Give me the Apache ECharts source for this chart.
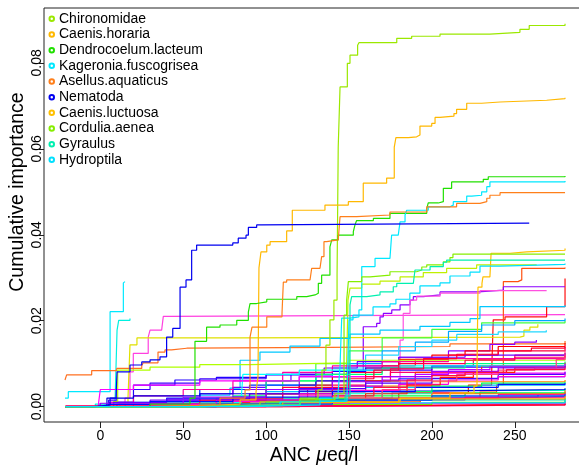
<!DOCTYPE html>
<html><head><meta charset="utf-8">
<script src="https://cdn.jsdelivr.net/npm/echarts@6/dist/echarts.min.js"></script>
<style>html,body{margin:0;padding:0;background:#fff}#chart{width:579px;height:468px}</style>
</head><body><div id="chart"></div>
<script>
// Axis ticks
const ancTicks = [0, 50, 100, 150, 200, 250];
const importanceTicks = [0, 0.02, 0.04, 0.06, 0.08];

// Taxa shown in the legend
const legendTaxa = ['Chironomidae', 'Caenis.horaria', 'Dendrocoelum.lacteum', 'Kageronia.fuscogrisea',
  'Asellus.aquaticus', 'Nematoda', 'Caenis.luctuosa', 'Cordulia.aenea', 'Gyraulus', 'Hydroptila'];

// Cumulative importance curves: [ANC, cumulative importance]
const chironomidae = [[-21,0],[60.1,0.0004],[96.3,0.0011],[120.4,0.0020],[131.3,0.0039],[133.7,0.0085],[136.1,0.0143],[138.5,0.0202],[140.9,0.0248],[142.8,0.0306],[143.5,0.0604],[144.6,0.0744],[149.0,0.0799],[150.6,0.0818],[155.2,0.0841],[156.0,0.0847],[178.8,0.0857],[187.8,0.0862],[204.9,0.0867],[235.0,0.0871],[253.1,0.0878],[258.7,0.0887],[280.3,0.0891]];
const caenisHoraria = [[-21,0],[30.0,0.0002],[60.1,0.0006],[84.3,0.0016],[93.9,0.0034],[95.1,0.0069],[95.7,0.0323],[96.9,0.0360],[100.4,0.0376],[102.4,0.0384],[112.4,0.0409],[115.8,0.0457],[135.5,0.0469],[149.6,0.0477],[158.6,0.0520],[172.7,0.0532],[177.3,0.0604],[178.3,0.0626],[185.8,0.0628],[190.8,0.0632],[192.8,0.0653],[199.9,0.0659],[201.9,0.0673],[204.9,0.0676],[213.3,0.0682],[214.9,0.0692],[221.0,0.0706],[230.0,0.0709],[241.1,0.0713],[269.2,0.0717],[280.3,0.0719]];
const dendrocoelumLacteum = [[-21,0],[30.0,0.0006],[54.1,0.0020],[57.1,0.0152],[64.1,0.0185],[72.2,0.0190],[82.3,0.0201],[89.3,0.0220],[90.3,0.0240],[94.3,0.0244],[100.4,0.0250],[118.5,0.0256],[124.5,0.0260],[129.5,0.0264],[131.5,0.0287],[133.5,0.0306],[138.5,0.0372],[139.6,0.0388],[143.5,0.0399],[152.6,0.0407],[153.6,0.0423],[154.6,0.0433],[164.7,0.0438],[174.7,0.0450],[196.9,0.0461],[197.8,0.0474],[203.9,0.0477],[206.9,0.0508],[211.9,0.0523],[231.0,0.0529],[234.0,0.0535],[280.3,0.0537]];
const kageroniaFuscogrisea = [[-21,0],[60.1,0.0004],[108.4,0.0011],[132.5,0.0020],[143.4,0.0030],[144.6,0.0095],[145.6,0.0206],[150.6,0.0209],[156.0,0.0225],[157.7,0.0326],[165.7,0.0345],[174.7,0.0349],[175.7,0.0399],[179.7,0.0403],[180.8,0.0430],[183.8,0.0446],[184.8,0.0457],[197.8,0.0465],[210.9,0.0469],[212.9,0.0477],[221.0,0.0490],[224.0,0.0492],[230.0,0.0500],[233.1,0.0512],[235.0,0.0523],[280.3,0.0525]];
const asellusAquaticus = [[-21,0],[30.0,0.0004],[72.2,0.0020],[87.3,0.0039],[90.3,0.0162],[91.5,0.0185],[100.4,0.0209],[109.6,0.0218],[110.4,0.0290],[112.4,0.0295],[126.5,0.0299],[127.5,0.0322],[132.5,0.0325],[133.5,0.0349],[134.9,0.0384],[136.5,0.0388],[143.5,0.0392],[144.6,0.0442],[154.6,0.0446],[174.7,0.0453],[196.9,0.0465],[214.9,0.0473],[229.0,0.0477],[233.1,0.0485],[235.0,0.0492],[241.1,0.0498],[280.3,0.0499]];
const nematoda = [[-21,0],[-3.2,0.0004],[5.9,0.0020],[9.5,0.0025],[10.1,0.0081],[17.9,0.0097],[25.0,0.0104],[30.0,0.0109],[36.0,0.0116],[40.0,0.0162],[43.7,0.0182],[48.1,0.0278],[51.7,0.0295],[55.1,0.0364],[58.1,0.0376],[79.9,0.0381],[83.2,0.0392],[87.9,0.0399],[89.3,0.0417],[94.3,0.0423],[97.3,0.0427],[258.7,0.0428]];
const caenisLuctuosa = [[-21,0],[60.1,0.0004],[120.4,0.0011],[180.8,0.0020],[210.9,0.0032],[225.4,0.0048],[227.2,0.0085],[227.8,0.0278],[230.2,0.0287],[230.8,0.0302],[235.0,0.0302],[235.7,0.0357],[247.1,0.0360],[257.2,0.0364],[280.3,0.0368]];
const corduliaAenea = [[-21,0],[60.1,0.0004],[120.4,0.0016],[141.5,0.0030],[147.0,0.0213],[148.6,0.0248],[149.6,0.0291],[157.7,0.0302],[162.7,0.0306],[174.7,0.0314],[190.8,0.0318],[193.9,0.0325],[196.9,0.0330],[206.9,0.0337],[210.9,0.0347],[212.7,0.0355],[280.3,0.0355]];
const gyraulus = [[-21,0],[60.1,0.0004],[120.4,0.0013],[147.6,0.0025],[150.6,0.0237],[151.6,0.0256],[160.7,0.0260],[168.7,0.0267],[176.7,0.0279],[178.8,0.0287],[188.8,0.0291],[189.8,0.0318],[198.9,0.0326],[206.9,0.0336],[208.9,0.0341],[280.3,0.0342]];
const hydroptila = [[-21,0],[90.3,0.0004],[132.5,0.0013],[148.8,0.0025],[150.0,0.0202],[152.4,0.0213],[164.5,0.0232],[174.7,0.0239],[178.3,0.0250],[186.7,0.0264],[192.8,0.0281],[204.9,0.0288],[210.9,0.0304],[223.0,0.0313],[229.0,0.0327],[241.1,0.0331],[280.3,0.0333]];

// Remaining taxa
const taxon01 = [[-21,0],[-0.2,0.0006],[14.9,0.0020],[17.9,0.0081],[19.9,0.0124],[28.9,0.0162],[30.0,0.0178],[37.0,0.0182],[38.0,0.0210],[42.0,0.0214],[280.3,0.0215]];
const taxon02 = [[-21.3,0.0020],[-19.3,0.0035],[5.9,0.0221],[13.9,0.0288],[14.9,0.0291]];
const taxon03 = [[-21,0],[-3,0.0006],[8.9,0.0015],[10.1,0.0178],[11.1,0.0201],[17.9,0.0205]];
const taxon04 = [[-21,0],[60,0.0004],[120,0.0016],[180,0.0032],[222,0.0050],[236,0.0074],[237.0,0.0202],[244.1,0.0209],[269.2,0.0233],[280.3,0.0298]];
const taxon05 = [[-21,0],[120.4,0.0011],[193,0.0020],[229,0.0034],[239,0.0051],[243.1,0.0291],[251.9,0.0295],[254.2,0.0322],[280.3,0.0324]];
const taxon06 = [[-21,0],[60,0.0008],[110,0.0030],[140,0.0060],[150,0.0080],[158.6,0.0186],[166.7,0.0194],[168.7,0.0209],[170.7,0.0217],[175.8,0.0225],[180.8,0.0237],[186.8,0.0248],[188.8,0.0256],[194.8,0.0260],[204.9,0.0267],[227.8,0.0271],[243.1,0.0279],[280.3,0.0279]];
const taxon07 = [[-21,0],[90,0.0006],[150,0.0020],[176,0.0034],[180.8,0.0155],[182.7,0.0217],[186.8,0.0248],[190.8,0.0257],[204.9,0.0264],[229.0,0.0270],[269.2,0.0271]];
const taxon08 = [[-21,0],[90.3,0.0006],[138.5,0.0020],[148.2,0.0034],[149.4,0.0248],[150.6,0.0276],[157.7,0.0285],[168.7,0.0292],[180.8,0.0302],[194.8,0.0312],[208.9,0.0322],[227.0,0.0330],[263.2,0.0330]];
const taxon09 = [[-21,0],[11.9,0.0006],[16.7,0.0020],[17.9,0.0144],[22.1,0.0160],[84.3,0.0162],[253.1,0.0164],[255.5,0.0178],[259.1,0.0185],[263.9,0.0192]];
const taxon10 = [[-21.3,0.0062],[-20.3,0.0074],[-5.2,0.0084],[9.9,0.0089],[25.0,0.0095],[25.9,0.0102],[34.8,0.0127],[39.0,0.0132],[43.0,0.0136],[52.1,0.0138],[138.5,0.0140],[210.9,0.0146],[280.3,0.0153]];
const taxon11 = [[-21,0],[30.0,0.0011],[60.1,0.0027],[78.2,0.0043],[84.3,0.0108],[96.3,0.0127],[114.4,0.0141],[132.5,0.0159],[150.6,0.0169],[168.7,0.0178],[192.8,0.0187],[210.9,0.0196],[223.0,0.0205],[229.0,0.0233],[280.3,0.0236]];
const taxon12 = [[-21,0],[40,0.001],[90,0.003],[110,0.006],[130,0.010],[150,0.013],[170,0.016],[200,0.018],[230,0.0195],[280.3,0.0200]];
const taxon13 = [[-21,0],[60,0.002],[100,0.004],[130,0.007],[150,0.010],[170,0.013],[190,0.015],[210,0.0175],[230,0.019],[250,0.020],[280.3,0.0205]];
const taxon14 = [[-21,0],[50,0.002],[100,0.005],[140,0.009],[160,0.012],[180,0.014],[200,0.0155],[215,0.0168],[240,0.0174],[269,0.0178]];
const taxon15 = [[-21,0],[40,0.0015],[80,0.004],[120,0.007],[150,0.0095],[180,0.0115],[210,0.013],[235,0.0145],[250,0.015],[263,0.0155]];
const taxon16 = [[-21,0],[60,0.0008],[120,0.0015],[200,0.0022],[264,0.0027]];
const taxon17 = [[-21,0],[40,0.001],[70,0.002],[100,0.004],[120,0.005],[140,0.007],[160,0.009],[180,0.011],[200,0.012],[220,0.013],[240,0.014],[280.3,0.0148]];
const taxon18 = [[-21,0],[60,0.001],[90,0.003],[110,0.0045],[130,0.006],[150,0.008],[170,0.0095],[190,0.011],[210,0.012],[240,0.013],[280.3,0.014]];
const taxon19 = [[-21,0],[70,0.0008],[100,0.002],[125,0.004],[150,0.006],[175,0.008],[200,0.0095],[225,0.011],[250,0.012],[280.3,0.0125]];
const taxon20 = [[-21,0],[30,0.0015],[60,0.003],[80,0.0045],[100,0.006],[115,0.0075],[135,0.009],[155,0.0105],[180,0.0115],[220,0.012],[280.3,0.0125]];
const taxon21 = [[-21,0],[10,0.0008],[40,0.002],[60,0.004],[90,0.005],[130,0.006],[180,0.0065],[240,0.007],[280.3,0.0071]];
const taxon22 = [[-21,0],[5,0.001],[20,0.005],[45,0.0062],[70,0.0068],[100,0.0074],[140,0.0082],[160,0.009],[200,0.0095],[280.3,0.0097]];
const taxon23 = [[-21,0],[60,0.0012],[100,0.003],[150,0.0048],[200,0.0058],[280.3,0.0062]];
const taxon24 = [[-21,0],[10,0.001],[50,0.002],[100,0.0035],[160,0.0045],[230,0.005],[280.3,0.0052]];
const taxon25 = [[-21,0],[30,0.0008],[80,0.002],[140,0.003],[200,0.0038],[280.3,0.0043]];
const taxon26 = [[-21,0],[40,0.0005],[100,0.0012],[170,0.002],[240,0.0024],[280.3,0.0025]];
const taxon27 = [[-21,0],[20,0.0006],[90,0.0015],[150,0.0025],[220,0.0032],[280.3,0.0035]];
const taxon28 = [[-21,0],[50,0.0005],[120,0.0012],[180,0.002],[240,0.0028],[280.3,0.0032]];
const taxon29 = [[-21,0],[5,0.0015],[10,0.004],[30,0.0055],[60,0.0065],[100,0.0075],[150,0.0085],[200,0.0092],[280.3,0.0095]];
const taxon30 = [[-21,0],[6,0.001],[20,0.0025],[50,0.004],[80,0.006],[110,0.008],[140,0.0095],[170,0.0105],[210,0.0112],[280.3,0.0118]];
const taxon31 = [[-21,0],[8,0.0012],[10.5,0.0085],[30,0.0092],[60,0.0098],[90,0.0102],[150,0.0108],[280.3,0.0112]];
const taxon32 = [[-21,0],[40,0.0008],[80,0.0025],[100,0.0060],[130,0.0075],[170,0.0090],[220,0.0100],[280.3,0.0105]];
const taxon33 = [[-21,0],[30,0.0005],[90,0.0015],[130,0.0035],[160,0.0060],[190,0.0080],[230,0.0095],[280.3,0.0102]];
const taxon34 = [[-21,0],[4,0.0020],[20,0.0025],[60,0.0030],[120,0.0036],[200,0.0040],[280.3,0.0042]];
const taxon35 = [[-21,0],[100,0.0002],[200,0.0004],[280.3,0.0006]];
const taxon36 = [[-21,0.0001],[80,0.0003],[180,0.0006],[280.3,0.0009]];
const taxon37 = [[-21,0],[60,0.0003],[150,0.0008],[280.3,0.0012]];
const taxon38 = [[-21,0],[90,0.0005],[200,0.0010],[280.3,0.0015]];
const taxon39 = [[-21,0],[20,0.0004],[120,0.0009],[280.3,0.0018]];
const taxon40 = [[-21,0],[60,0.0008],[140,0.0020],[200,0.0030],[280.3,0.0038]];
const taxon41 = [[-21,0],[40,0.001],[85,0.0020],[86,0.0075],[120,0.0085],[180,0.0095],[280.3,0.0100]];
const taxon42 = [[-21,0],[-1,0.0010],[0,0.0040],[20,0.0050],[60,0.0060],[120,0.0070],[200,0.0078],[280.3,0.0082]];
const taxon43 = [[-21,0],[10,0.0005],[60,0.0015],[100,0.003],[130,0.0045],[150,0.0065],[165,0.0085],[180,0.0100],[195,0.0112],[215,0.0122],[240,0.0130],[260,0.0136],[280.3,0.0139]];
const taxon44 = [[-21,0],[30,0.0008],[80,0.0018],[110,0.0030],[140,0.0050],[160,0.0070],[175,0.0088],[195,0.0100],[220,0.0108],[250,0.0115],[280.3,0.0120]];
const taxon45 = [[-21,0],[20,0.0006],[70,0.0016],[120,0.0030],[150,0.0048],[170,0.0062],[190,0.0075],[210,0.0086],[235,0.0094],[280.3,0.0100]];
const taxon46 = [[-21,0],[8,0.0010],[40,0.0018],[90,0.0030],[120,0.0042],[160,0.0055],[200,0.0066],[240,0.0075],[280.3,0.0080]];
const taxon47 = [[-21,0],[15,0.0005],[70,0.0012],[120,0.0025],[150,0.0038],[180,0.0052],[210,0.0062],[240,0.0070],[280.3,0.0076]];
const taxon48 = [[-21,0],[50,0.0004],[120,0.0014],[160,0.0030],[185,0.0050],[205,0.0068],[225,0.0080],[250,0.0090],[280.3,0.0094]];
const taxon49 = [[-21,0],[60,0.0006],[130,0.0018],[170,0.0035],[200,0.0048],[230,0.0055],[280.3,0.0058]];
const taxon50 = [[-21,0],[5,0.0005],[30,0.0012],[80,0.0022],[140,0.0035],[190,0.0045],[240,0.0052],[280.3,0.0055]];
const taxon51 = [[-21,0.0002],[40,0.0005],[100,0.0010],[160,0.0016],[220,0.0022],[280.3,0.0026]];
const taxon52 = [[-21,0],[110,0.0008],[150,0.0020],[170,0.0040],[190,0.0060],[215,0.0075],[240,0.0085],[262,0.0090],[275,0.0110],[280.3,0.0135]];
const taxon53 = [[-21,0],[0,0.0008],[50,0.0022],[100,0.0040],[140,0.0058],[170,0.0070],[200,0.0082],[240,0.0090],[280.3,0.0094]];
const taxon54 = [[-21,0],[100,0.0010],[140,0.0025],[165,0.0045],[185,0.0062],[200,0.0072],[220,0.0080],[245,0.0086],[280.3,0.0090]];
const taxon55 = [[-21,0],[30,0.0004],[100,0.0010],[180,0.0016],[280.3,0.0020]];
const taxon56 = [[-21,0],[70,0.0006],[140,0.0015],[200,0.0025],[280.3,0.0030]];
const taxon57 = [[-21,0],[40,0.0004],[110,0.0010],[180,0.0018],[280.3,0.0024]];
const taxon58 = [[-21,0.0001],[60,0.0002],[150,0.0004],[280.3,0.0007]];

const legendSeries = [chironomidae, caenisHoraria, dendrocoelumLacteum, kageroniaFuscogrisea, asellusAquaticus,
  nematoda, caenisLuctuosa, corduliaAenea, gyraulus, hydroptila];
const legendColors = ['#9BE800', '#FFB800', '#20E000', '#00E8FF', '#FF7F1A', '#0000F0', '#FFC000', '#86EE00', '#00F0B0', '#00E0FF'];

const otherSeries = [taxon01, taxon02, taxon03, taxon04, taxon05, taxon06, taxon07, taxon08, taxon09, taxon10,
  taxon11, taxon12, taxon13, taxon14, taxon15, taxon16, taxon17, taxon18, taxon19, taxon20,
  taxon21, taxon22, taxon23, taxon24, taxon25, taxon26, taxon27, taxon28, taxon29, taxon30,
  taxon31, taxon32, taxon33, taxon34, taxon35, taxon36, taxon37, taxon38, taxon39, taxon40, taxon41, taxon42,
  taxon43, taxon44, taxon45, taxon46, taxon47, taxon48, taxon49, taxon50, taxon51, taxon52, taxon53, taxon54,
  taxon55, taxon56, taxon57, taxon58];
const otherColors = ['#FF40E0', '#00E8FF', '#00F0E0', '#FF1010', '#FF5010', '#8A00FF', '#FF50E0', '#C0F000', '#E0E000', '#FF7020',
  '#00C8FF', '#40FF40', '#00A8FF', '#20D8FF', '#9000FF', '#0060FF', '#FF0000', '#FF0040', '#FF0070', '#7000FF',
  '#0030FF', '#2000FF', '#FF8000', '#00C0FF', '#00FFC0', '#0080FF', '#00FF40', '#FF00C0', '#4000FF', '#FF00A0',
  '#B0FF00', '#00FF80', '#FF3000', '#0000E0', '#FF0090', '#FF2060', '#E000FF', '#60FF00', '#00D0FF', '#FF6000', '#00FFFF', '#FF00FF',
  '#FF0030', '#FF0050', '#C000FF', '#5000FF', '#FF00E0', '#FF2000', '#00FF60', '#0010FF', '#FF0080', '#FF4080', '#A000FF', '#FF1040',
  '#00E0A0', '#0050FF', '#FFA000', '#FF0020'];

function stepLine(name, data, color, z) {
  return {
    name: name, type: 'line', step: 'end', data: data, showSymbol: false, symbol: 'emptyCircle',
    lineStyle: { width: 1.2, color: color }, itemStyle: { color: color },
    emphasis: { disabled: true }, silent: true, z: z
  };
}

const series = [];
legendSeries.forEach((d, i) => series.push(stepLine(legendTaxa[i], d, legendColors[i], 3)));
otherSeries.forEach((d, i) => series.push(stepLine('taxon' + (i + 1), d, otherColors[i], 2)));

const font = 'Liberation Sans, Arial, Helvetica, sans-serif';
const chart = echarts.init(document.getElementById('chart'), null, { renderer: 'canvas' });
chart.setOption({
  animation: false,
  backgroundColor: '#fff',
  grid: { left: 44, top: 8, right: -5, bottom: 46, containLabel: false, outerBoundsMode: 'none',
    show: true, borderColor: '#222', borderWidth: 1, backgroundColor: 'transparent' },
  legend: {
    data: legendTaxa, orient: 'vertical', left: 48.5, top: 11, itemGap: 0, padding: 0,
    icon: 'emptyCircle', itemWidth: 4.5, itemHeight: 4.5, selectedMode: false,
    itemStyle: { borderWidth: 1 },
    textStyle: { fontFamily: font, fontSize: 14, color: '#000', lineHeight: 15.67 }
  },
  xAxis: {
    type: 'value', min: -33.96, max: 291.74,
    name: '{n|ANC }{m|μ}{n|eq/l}', nameLocation: 'middle', nameGap: 24, nameMoveOverlap: false,
    nameTextStyle: { rich: { n: { fontFamily: font, fontSize: 19.5, color: '#000' }, m: { fontFamily: font, fontSize: 19.5, fontStyle: 'italic', color: '#000' } } },
    axisLine: { show: false, onZero: false }, splitLine: { show: false },
    axisTick: { show: true, length: 6, customValues: ancTicks, lineStyle: { color: '#222' } },
    axisLabel: { customValues: ancTicks, margin: 7, fontFamily: font, fontSize: 14, color: '#000' }
  },
  yAxis: {
    type: 'value', min: -0.003568, max: 0.092768,
    name: 'Cumulative importance', nameLocation: 'middle', nameGap: 16, nameMoveOverlap: false,
    nameTextStyle: { fontFamily: font, fontSize: 19.5, color: '#000', padding: [0, 0, 0, 46] },
    axisLine: { show: false, onZero: false }, splitLine: { show: false },
    axisTick: { show: true, length: 5, customValues: importanceTicks, lineStyle: { color: '#222' } },
    axisLabel: { customValues: importanceTicks, rotate: 90, margin: 0, fontFamily: font, fontSize: 14, color: '#000',
      formatter: v => v.toFixed(2) }
  },
  series: series
});
</script></body></html>
